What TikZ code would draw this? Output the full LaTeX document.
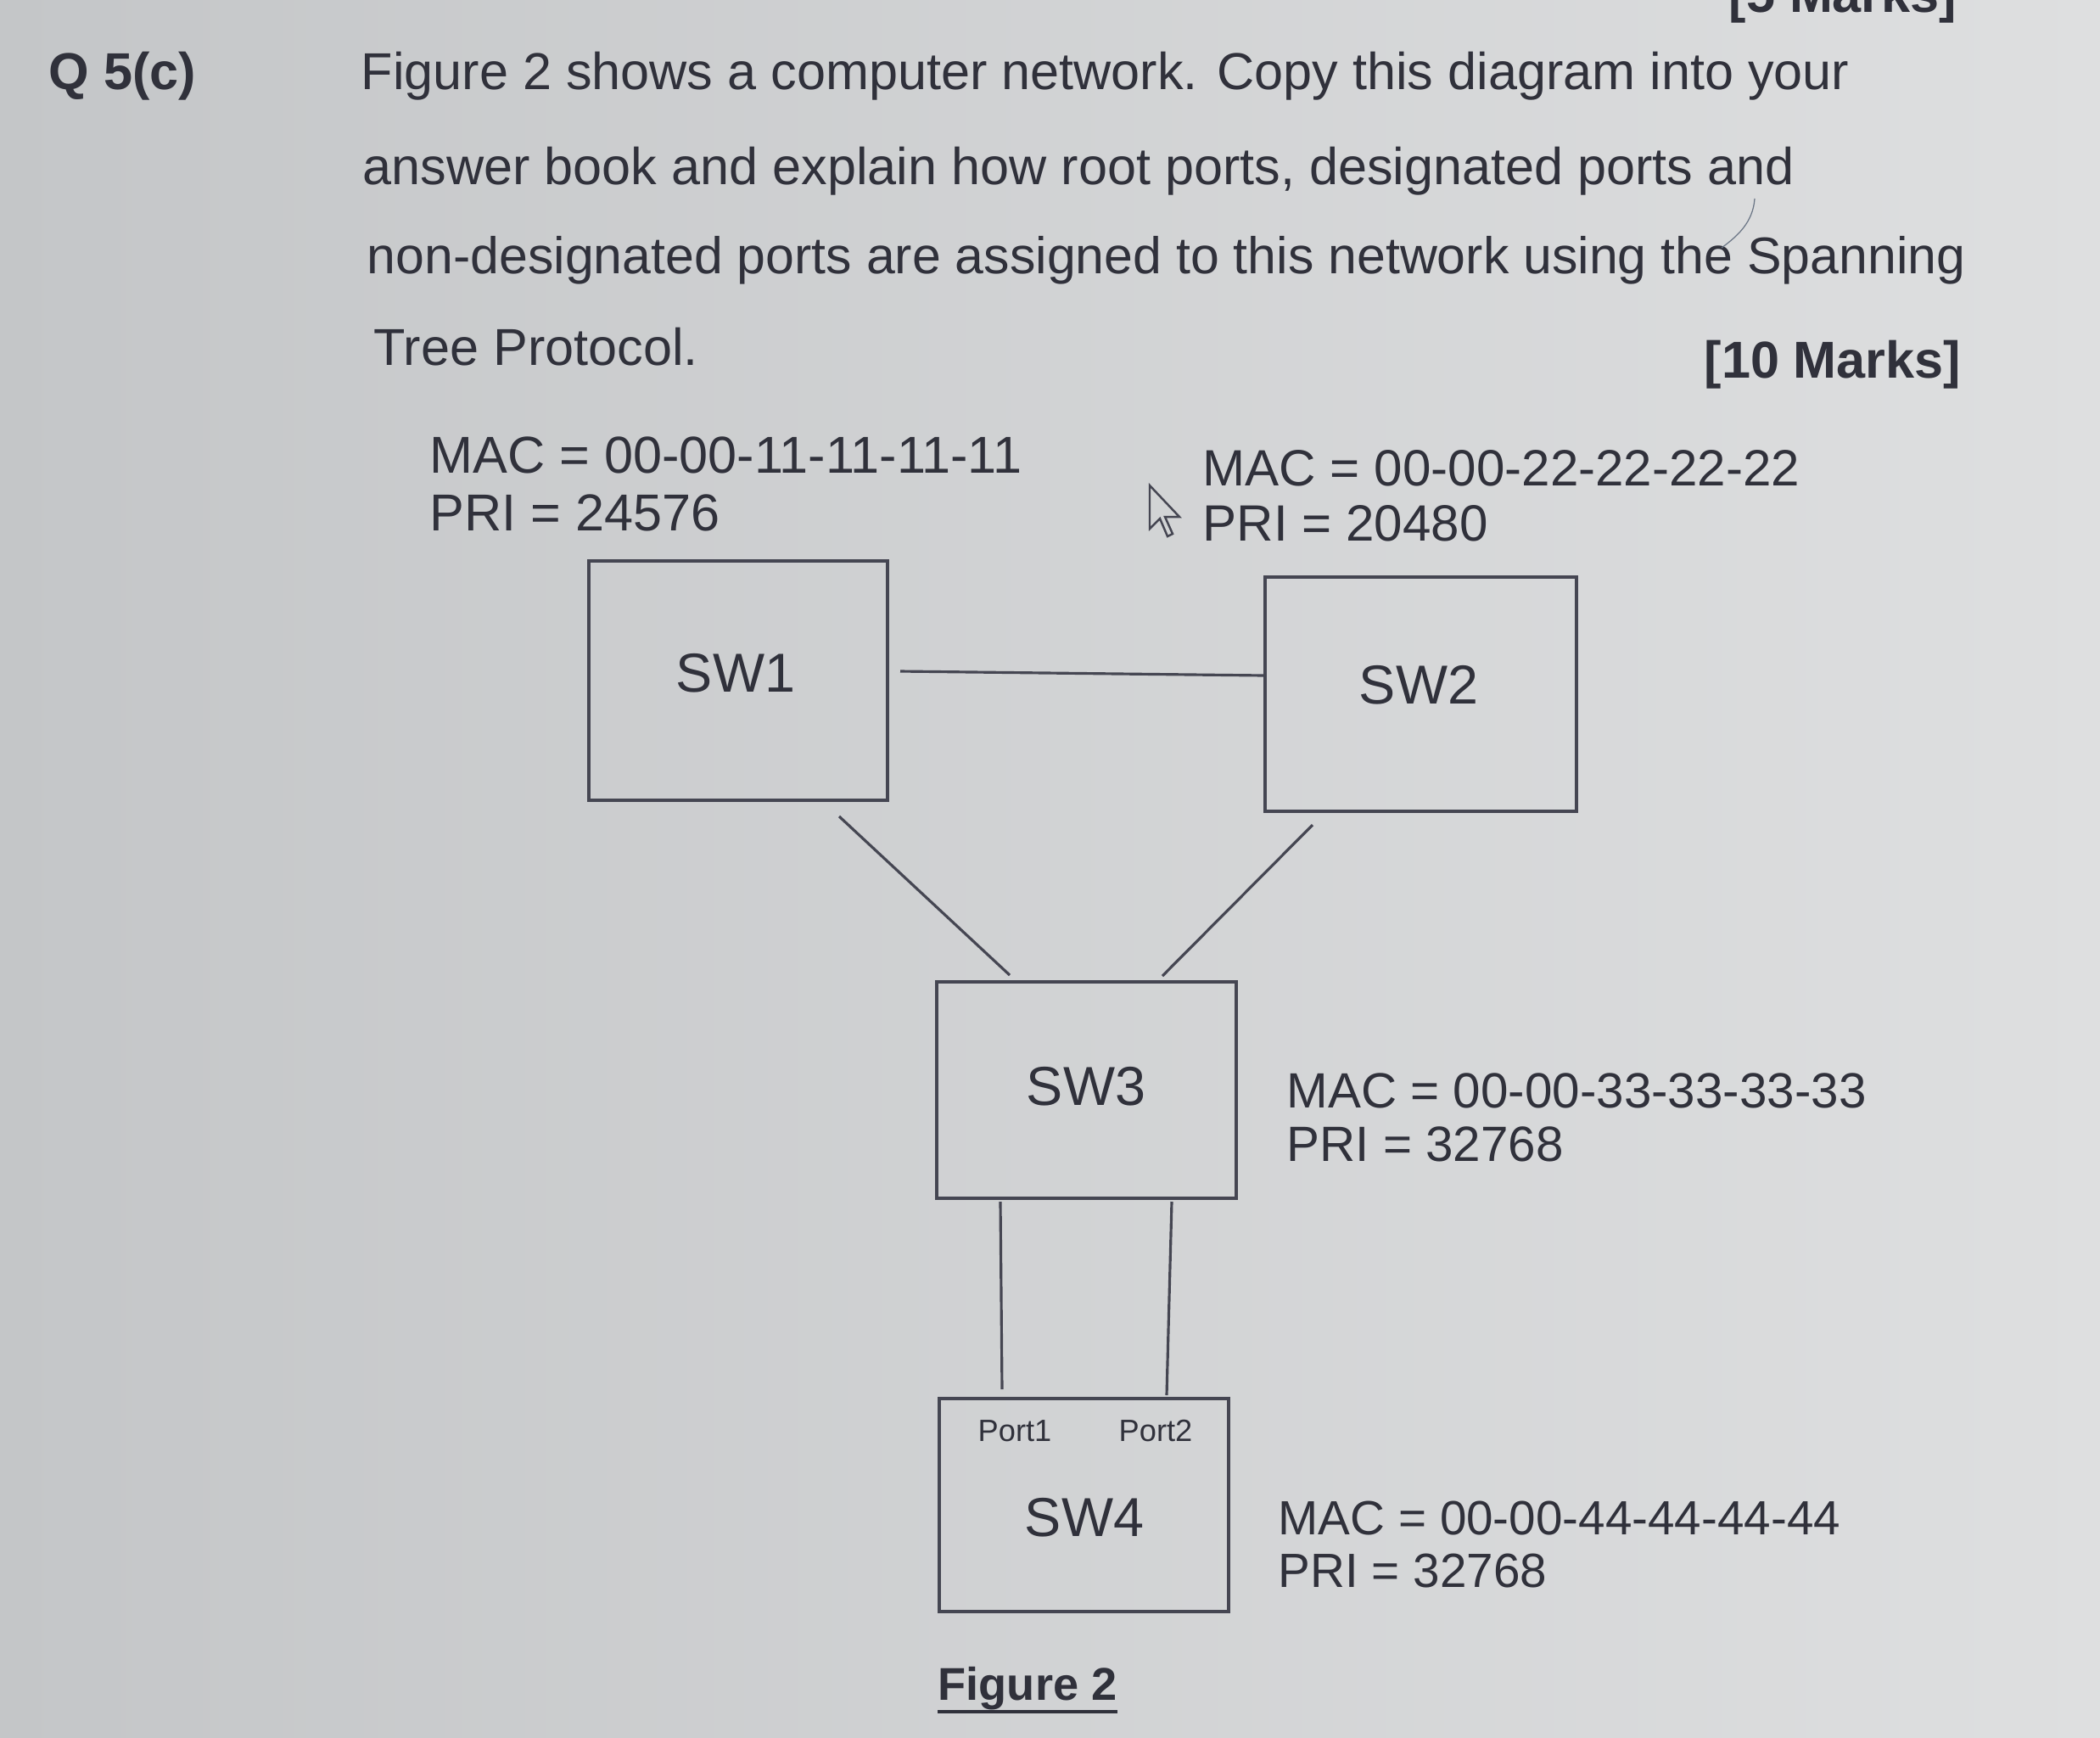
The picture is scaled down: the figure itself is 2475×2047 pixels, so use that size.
\documentclass[tikz,border=0pt]{standalone}
\usepackage{fontspec}
\setmainfont{Liberation Sans}
\definecolor{ink}{HTML}{30313B}
\definecolor{bgL}{HTML}{C4C6C8}
\definecolor{bgR}{HTML}{DEDFE0}
\definecolor{linec}{HTML}{454652}
\definecolor{penc}{HTML}{6A7585}
\tikzset{
  txt/.style={anchor=base west, inner sep=0pt, text=ink, font=\fontsize{17.4pt}{20pt}\selectfont},
  boldtxt/.style={txt, font=\fontsize{17.4pt}{20pt}\selectfont\bfseries},
  maclbl/.style={txt, font=\fontsize{17.1pt}{20pt}\selectfont},
  swlbl/.style={anchor=base, inner sep=0pt, text=ink, font=\fontsize{18.4pt}{21pt}\selectfont},
  portlbl/.style={anchor=base, inner sep=0pt, text=ink, font=\fontsize{10.3pt}{12pt}\selectfont},
  swbox/.style={draw=linec, line width=1.05pt, inner sep=0pt},
  link/.style={draw=linec, line width=0.9pt},
}
\begin{document}
\begin{tikzpicture}[x=0.01cm,y=-0.01cm]
\useasboundingbox (0,0) rectangle (2475,2047);
\shade[left color=bgL, right color=bgR] (0,0) rectangle (2475,2047);

% header texts
\node[boldtxt, anchor=base east] (prevmarks) at (2307,14) {[5 Marks]};
\node[boldtxt] (qnum) at (57,105) {Q 5(c)};
\node[txt] (l1) at (425,105) {Figure 2 shows a computer network. Copy this diagram into your};
\node[txt] (l2) at (427,217) {answer book and explain how root ports, designated ports and};
\node[txt, font=\fontsize{17.3pt}{20pt}\selectfont] (l3) at (432,322) {non-designated ports are assigned to this network using the Spanning};
\node[txt] (l4) at (440,430) {Tree Protocol.};
\node[boldtxt, anchor=base east] (marks) at (2312,445) {[10 Marks]};

% stray pen mark
\draw[penc, line width=0.35pt] (2068,234) .. controls (2066,262) and (2048,278) .. (2029,292);

% switch info
\node[maclbl, font=\fontsize{17.4pt}{20pt}\selectfont] (mac1) at (506,557) {MAC = 00-00-11-11-11-11};
\node[maclbl, font=\fontsize{17.4pt}{20pt}\selectfont] (pri1) at (506,625) {PRI = 24576};
\node[maclbl] (mac2) at (1417,572) {MAC = 00-00-22-22-22-22};
\node[maclbl] (pri2) at (1417,637) {PRI = 20480};
\node[maclbl, font=\fontsize{16.6pt}{20pt}\selectfont] (mac3) at (1516,1305) {MAC = 00-00-33-33-33-33};
\node[maclbl, font=\fontsize{16.6pt}{20pt}\selectfont] (pri3) at (1516,1368) {PRI = 32768};
\node[maclbl, font=\fontsize{16.1pt}{20pt}\selectfont] (mac4) at (1506,1808) {MAC = 00-00-44-44-44-44};
\node[maclbl, font=\fontsize{16.1pt}{20pt}\selectfont] (pri4) at (1506,1870) {PRI = 32768};

% mouse cursor
\draw[linec, line width=0.7pt, line join=miter]
  (1355,572) -- ++(0,51) -- ++(12,-12) -- ++(9,21) -- ++(6,-3) -- ++(-9,-20) -- ++(17,0) -- cycle;

% switches
\node[swbox, minimum width=3.52cm, minimum height=2.82cm] (sw1) at (870,802) {};
\node[swbox, minimum width=3.67cm, minimum height=2.76cm] (sw2) at (1674.5,818) {};
\node[swbox, minimum width=3.53cm, minimum height=2.55cm] (sw3) at (1280.5,1284.5) {};
\node[swbox, minimum width=3.41cm, minimum height=2.51cm] (sw4) at (1277.5,1773.5) {};

\node[swlbl] (sw1l) at (867,815) {SW1};
\node[swlbl] (sw2l) at (1672,829) {SW2};
\node[swlbl] (sw3l) at (1280,1302) {SW3};
\node[swlbl] (sw4l) at (1278,1810) {SW4};
\node[portlbl] (p1) at (1196,1698) {Port1};
\node[portlbl] (p2) at (1362,1698) {Port2};

% link end points (gaps next to the boxes)
\coordinate (a12) at (1061,791);
\coordinate (b12) at (1491,796);
\coordinate (a13) at (989,962);
\coordinate (b13) at (1190,1149);
\coordinate (a23) at (1547,972);
\coordinate (b23) at (1370,1150);
\coordinate (a34) at (1179,1416);
\coordinate (b34) at (1181,1637);
\coordinate (c34) at (1381,1416);
\coordinate (d34) at (1375,1644);

\draw[link] (a12) -- (b12);
\draw[link] (a13) -- (b13);
\draw[link] (a23) -- (b23);
\draw[link] (a34) -- (b34);
\draw[link] (c34) -- (d34);

% caption
\node[txt, font=\fontsize{15.4pt}{18pt}\selectfont\bfseries] (fig) at (1105,2003) {Figure 2};
\draw[ink, line width=1.2pt] ([yshift=-0.14cm]fig.base west) -- ([yshift=-0.14cm]fig.base east);
\end{tikzpicture}
\end{document}
